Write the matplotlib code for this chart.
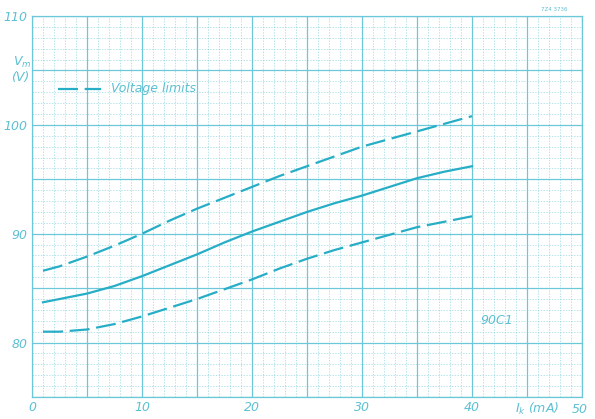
import matplotlib
matplotlib.use("Agg")
import matplotlib.pyplot as plt
from matplotlib.ticker import MultipleLocator, FuncFormatter

# curve data (I_k in mA, V_m in V)
i_k = [1, 2.5, 5, 7.5, 10, 12.5, 15, 17.5, 20, 22.5, 25, 27.5, 30, 32.5, 35, 37.5, 40]
v_upper = [86.6, 87.0, 87.9, 88.9, 90.0, 91.2, 92.3, 93.3, 94.3, 95.3, 96.2, 97.1, 98.0, 98.7, 99.4, 100.1, 100.8]
v_mid = [83.7, 84.0, 84.5, 85.2, 86.1, 87.1, 88.1, 89.2, 90.2, 91.1, 92.0, 92.8, 93.5, 94.3, 95.1, 95.7, 96.2]
v_lower = [81.0, 81.0, 81.2, 81.7, 82.4, 83.2, 84.0, 84.9, 85.8, 86.8, 87.7, 88.5, 89.2, 89.9, 90.6, 91.1, 91.6]

x_labels = [0, 10, 20, 30, 40, 50]
y_labels = [80, 90, 100, 110]

line_col = "#27aec6"
grid_col = "#6cc8d8"
text_col = "#5cc0d2"

fig = plt.figure(figsize=(5.95, 4.19), dpi=100)
ax = fig.add_axes([32 / 595, 22 / 419, 550 / 595, 381 / 419])

ax.set_xlim(0, 50)
ax.set_ylim(75, 110)

ax.xaxis.set_major_locator(MultipleLocator(5))
ax.xaxis.set_minor_locator(MultipleLocator(1))
ax.yaxis.set_major_locator(MultipleLocator(5))
ax.yaxis.set_minor_locator(MultipleLocator(1))

ax.xaxis.set_major_formatter(FuncFormatter(lambda v, p: f"{int(v)}" if int(v) in x_labels and int(v) != 50 else ""))
ax.yaxis.set_major_formatter(FuncFormatter(lambda v, p: f"{int(v)}" if int(v) in y_labels else ""))

ax.grid(which="major", color=grid_col, lw=0.9, ls="-")
ax.grid(which="minor", color=grid_col, lw=0.5, ls=(0, (2, 2)), alpha=0.7)
ax.tick_params(which="both", length=0, colors=text_col, labelsize=9, pad=3)
for lab in ax.get_xticklabels() + ax.get_yticklabels():
    lab.set_fontstyle("italic")
for s in ax.spines.values():
    s.set_color(grid_col)
    s.set_linewidth(0.9)
ax.set_axisbelow(True)

dash = (0, (9, 3))
ax.plot(i_k, v_upper, color=line_col, lw=1.6, ls=dash)
ax.plot(i_k, v_mid, color=line_col, lw=1.6)
ax.plot(i_k, v_lower, color=line_col, lw=1.6, ls=dash)

# legend drawn like the original
ax.plot([2.4, 6.3], [103.3, 103.3], color=line_col, lw=1.6, ls=dash)
ax.text(7.2, 103.3, "Voltage limits", color=text_col, fontsize=9, style="italic", va="center")

ax.text(40.8, 81.7, "90C1", color=text_col, fontsize=9, style="italic")
ax.text(48.7, 110.4, "7Z4 3736", color=text_col, fontsize=4, ha="right", va="bottom")

fig.text(22 / 595, 1 - 62 / 419, "$V_m$", color=text_col, fontsize=9, style="italic", ha="center", va="center")
fig.text(20 / 595, 1 - 77 / 419, "(V)", color=text_col, fontsize=9, style="italic", ha="center", va="center")
fig.text(537 / 595, 1 - 409 / 419, "$I_k$ (mA)", color=text_col, fontsize=9, style="italic", ha="center", va="center")
fig.text(580 / 595, 1 - 409 / 419, "50", color=text_col, fontsize=9, style="italic", ha="center", va="center")

fig.savefig("out.png", dpi=100)
